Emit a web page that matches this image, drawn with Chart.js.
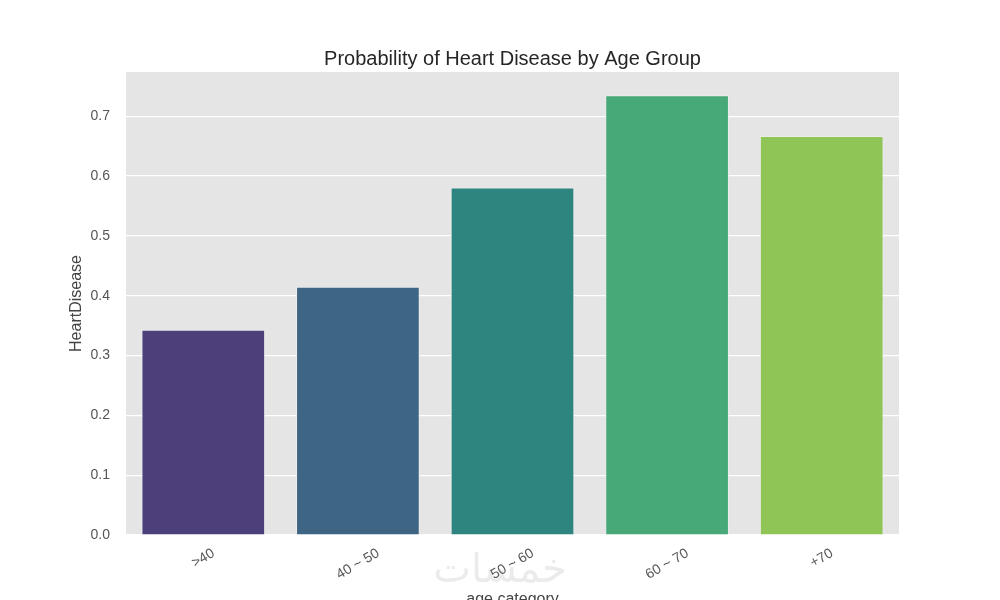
<!DOCTYPE html>
<html>
<head>
<meta charset="utf-8">
<script src="https://cdn.jsdelivr.net/npm/chart.js@4.4.1/dist/chart.umd.min.js"></script>
<style>
html,body{margin:0;padding:0;background:#fff;}
#wrap{width:1000px;height:600px;position:relative;}
</style>
</head>
<body>
<div id="wrap"><canvas id="c" width="1000" height="600"></canvas></div>
<script>
const categories = [">40", "40 ~ 50", "50 ~ 60", "60 ~ 70", "+70"];
const heartDisease = [0.343, 0.415, 0.581, 0.735, 0.667];
const barColors = ["#4c3f7a", "#3e6583", "#2e847e", "#47a878", "#8fc456"];
const chartTitle = "Probability of Heart Disease by Age Group";
const yTitle = "HeartDisease";
const xTitle = "age category";
const watermark = "خمسات";

const FONT = "'Liberation Sans', Arial, sans-serif";

const bgPlugin = {
  id: 'bg',
  beforeDraw(chart) {
    const {ctx, chartArea: a} = chart;
    ctx.save();
    ctx.fillStyle = '#e5e5e5';
    ctx.fillRect(a.left, a.top, a.right - a.left, a.bottom - a.top);
    ctx.restore();
  },
  afterDraw(chart) {
    const {ctx, chartArea: a} = chart;
    const xs = chart.scales.x;
    ctx.save();
    // title
    ctx.fillStyle = '#262626';
    ctx.font = '20px ' + FONT;
    ctx.textAlign = 'center';
    ctx.textBaseline = 'alphabetic';
    ctx.fillText(chartTitle, (a.left + a.right) / 2, 65);
    // watermark
    ctx.fillStyle = '#ebebeb';
    ctx.font = '40px "DejaVu Sans", sans-serif';
    ctx.textAlign = 'center';
    ctx.textBaseline = 'middle';
    ctx.fillText(watermark, 500, 572);
    // x tick labels rotated 30deg, centered under tick
    ctx.fillStyle = '#555555';
    ctx.font = '14px ' + FONT;
    const ang = 30 * Math.PI / 180;
    const h = 14 * 0.72;
    categories.forEach((lab, i) => {
      const x = xs.getPixelForValue(i);
      const w = ctx.measureText(lab).width;
      const bh = w * Math.sin(ang) + h * Math.cos(ang);
      const cy = 548 + bh / 2;
      ctx.save();
      ctx.translate(x, cy);
      ctx.rotate(-ang);
      ctx.textAlign = 'center';
      ctx.textBaseline = 'middle';
      ctx.fillText(lab, 0, 0);
      ctx.restore();
    });
    // x title
    ctx.fillStyle = '#444444';
    ctx.font = '16px ' + FONT;
    ctx.textAlign = 'center';
    ctx.textBaseline = 'alphabetic';
    ctx.fillText(xTitle, (a.left + a.right) / 2, 604);
    // y title
    ctx.save();
    ctx.translate(77, (a.top + a.bottom) / 2);
    ctx.rotate(-Math.PI / 2);
    ctx.textAlign = 'center';
    ctx.textBaseline = 'middle';
    ctx.fillText(yTitle, 0, 0);
    ctx.restore();
    ctx.restore();
  }
};

new Chart(document.getElementById('c'), {
  type: 'bar',
  data: {
    labels: categories,
    datasets: [{
      data: heartDisease,
      backgroundColor: barColors,
      borderColor: '#ececec',
      borderWidth: 1,
      categoryPercentage: 1.0,
      barPercentage: 0.8
    }]
  },
  options: {
    responsive: false,
    animation: false,
    devicePixelRatio: 1,
    layout: { padding: { top: 72, right: 101, bottom: 0, left: 0 } },
    plugins: { legend: { display: false }, tooltip: { enabled: false }, title: { display: false } },
    scales: {
      x: {
        grid: { display: false, drawTicks: false },
        border: { display: false },
        ticks: { display: false },
        afterFit(s) { s.height = 65; }
      },
      y: {
        min: 0,
        max: 0.774,
        grid: { color: '#ffffff', lineWidth: 1.2, drawTicks: false },
        border: { display: false },
        ticks: {
          stepSize: 0.1,
          padding: 16,
          color: '#555555',
          font: { family: FONT, size: 14 },
          callback: v => (Math.round(v * 10) / 10).toFixed(1)
        },
        afterBuildTicks(s) { s.ticks = s.ticks.filter(t => Math.abs(t.value * 10 - Math.round(t.value * 10)) < 1e-6); },
        afterFit(s) { s.width = 126; }
      }
    }
  },
  plugins: [bgPlugin]
});
</script>
</body>
</html>
